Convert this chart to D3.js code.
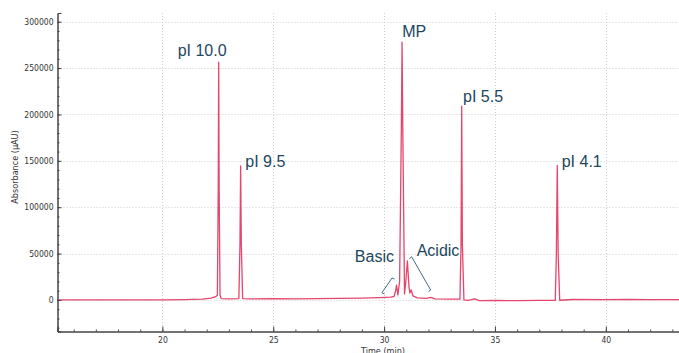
<!DOCTYPE html>
<html>
<head>
<meta charset="utf-8">
<script src="https://cdn.jsdelivr.net/npm/d3@7"></script>
<style>
  html, body { margin: 0; padding: 0; background: #fff; }
  svg { display: block; }
</style>
</head>
<body>
<div id="chart"></div>
<script>
// retention time (min) and absorbance (µAU)
const times = [
  15.27, 17, 19, 20, 21, 21.8, 22.2, 22.4, 22.48, 22.52, 22.54, 22.56, 22.6, 22.65,
  23.0, 23.45, 23.5, 23.53, 23.56, 23.62, 24, 25, 26, 27, 28, 29, 29.8, 30.3,
  30.45, 30.52, 30.56, 30.62, 30.7, 30.78, 30.81, 30.84, 30.92, 30.98, 31.05, 31.12,
  31.16, 31.22, 31.3, 31.5, 31.9, 32.1, 32.3, 33, 33.42, 33.47, 33.5, 33.53, 33.6,
  33.8, 34.07, 34.3, 35, 36, 37, 37.72, 37.77, 37.81, 37.85, 37.92, 38.5, 40, 41, 42, 43.3
];
const absorbance = [
  0, 0, 0, 200, 300, 800, 2000, 3500, 5000, 120000, 256500, 120000, 5000, 1500,
  1200, 1500, 60000, 144500, 60000, 1500, 1200, 1500, 1200, 1500, 1800, 2000, 2500, 3000,
  4000, 10000, 16000, 5500, 20000, 190000, 278000, 190000, 6500, 20000, 42000, 15000,
  7500, 10800, 4500, 2200, 1800, 2900, 1200, 800, 800, 60000, 209000, 60000, 0,
  -500, 1200, -800, -500, -800, -500, -500, 50000, 145000, 50000, -300, 500, 300, 600, 300, 400
];

const xTicks = [20, 25, 30, 35, 40];
const yTicks = [0, 50000, 100000, 150000, 200000, 250000, 300000];

// annotation text, anchored in data units (time, absorbance) at text start / baseline
const labelText = ['pI 10.0', 'pI 9.5', 'MP', 'pI 5.5', 'pI 4.1', 'Basic', 'Acidic'];
const labelTime = [20.69, 23.74, 30.82, 33.56, 38.01, 28.68, 31.47];
const labelAbs  = [263000, 143400, 283000, 213400, 143400, 41000, 47400];

// bracket marks under Basic / Acidic (time, absorbance)
const basicBracket  = [[30.02, 6400], [29.90, 7800], [30.36, 23700], [30.47, 22600]];
const acidicBracket = [[31.14, 44500], [31.24, 46600], [32.10, 10700], [32.01, 9300]];

const W = 679, H = 353;
const x = d3.scaleLinear().domain([15.27, 43.3]).range([57.5, 679]);
const y = d3.scaleLinear().domain([-34000, 309400]).range([331.5, 13]);

const svg = d3.select('#chart').append('svg')
  .attr('width', W)
  .attr('height', H)
  .style('font-family', '"Liberation Sans", Arial, sans-serif');

// grid
svg.append('g').selectAll('line')
  .data(yTicks)
  .enter().append('line')
  .attr('x1', x.range()[0]).attr('x2', x.range()[1])
  .attr('y1', d => Math.round(y(d)) + 0.5).attr('y2', d => Math.round(y(d)) + 0.5)
  .attr('stroke', '#cfcfcf')
  .attr('stroke-dasharray', '1,2');

svg.append('g').selectAll('line')
  .data(xTicks)
  .enter().append('line')
  .attr('x1', d => Math.round(x(d)) + 0.5).attr('x2', d => Math.round(x(d)) + 0.5)
  .attr('y1', y.range()[1]).attr('y2', y.range()[0])
  .attr('stroke', '#cfcfcf')
  .attr('stroke-dasharray', '1,2');

// trace
const pts = times.map((t, i) => [t, absorbance[i]]);
const line = d3.line().x(d => x(d[0])).y(d => y(d[1]));
svg.append('path')
  .datum(pts)
  .attr('d', line)
  .attr('fill', 'none')
  .attr('stroke', '#e6456c')
  .attr('stroke-width', 1.3)
  .attr('stroke-linejoin', 'round');

// axes
const yAxis = d3.axisLeft(y)
  .tickValues(yTicks)
  .tickSize(-4)
  .tickPadding(4)
  .tickFormat(d3.format('d'));
const yMinor = d3.axisLeft(y)
  .tickValues(d3.range(-30000, 310000, 10000))
  .tickSize(-2)
  .tickFormat('');
const xAxis = d3.axisBottom(x)
  .tickValues(xTicks)
  .tickSize(-5)
  .tickPadding(5)
  .tickFormat(d3.format('d'));
const xMinor = d3.axisBottom(x)
  .tickValues(d3.range(16, 44, 1))
  .tickSize(-2)
  .tickFormat('');

function styleAxis(g) {
  g.select('.domain').attr('stroke', '#444');
  g.selectAll('.tick line').attr('stroke', '#444');
  g.selectAll('.tick text')
    .attr('fill', '#333')
    .style('font-size', '8.5px')
    .style('font-family', '"DejaVu Sans Condensed", "Liberation Sans", sans-serif');
}

svg.append('g').attr('transform', 'translate(57.5,0)').call(yMinor).call(styleAxis);
svg.append('g').attr('transform', 'translate(57.5,0)').call(yAxis).call(styleAxis);
svg.append('g').attr('transform', 'translate(0,331.5)').call(xMinor).call(styleAxis);
svg.append('g').attr('transform', 'translate(0,331.5)').call(xAxis).call(styleAxis);

// axis titles
svg.append('text')
  .attr('transform', 'translate(18,167) rotate(-90)')
  .attr('text-anchor', 'middle')
  .attr('fill', '#333')
  .style('font-size', '9px')
  .style('font-family', '"DejaVu Sans Condensed", "Liberation Sans", sans-serif')
  .text('Absorbance (µAU)');

svg.append('text')
  .attr('x', 383)
  .attr('y', 354)
  .attr('text-anchor', 'middle')
  .attr('fill', '#333')
  .style('font-size', '9px')
  .style('font-family', '"DejaVu Sans Condensed", "Liberation Sans", sans-serif')
  .text('Time (min)');

// peak labels
svg.append('g').selectAll('text')
  .data(labelText)
  .enter().append('text')
  .attr('x', (d, i) => x(labelTime[i]))
  .attr('y', (d, i) => y(labelAbs[i]))
  .attr('fill', '#23465e')
  .style('font-size', '16px')
  .text(d => d);

// brackets
const bline = d3.line().x(d => x(d[0])).y(d => y(d[1]));
[basicBracket, acidicBracket].forEach(b => {
  svg.append('path')
    .attr('d', bline(b))
    .attr('fill', 'none')
    .attr('stroke', '#4a6a80')
    .attr('stroke-width', 1);
});
</script>
</body>
</html>
